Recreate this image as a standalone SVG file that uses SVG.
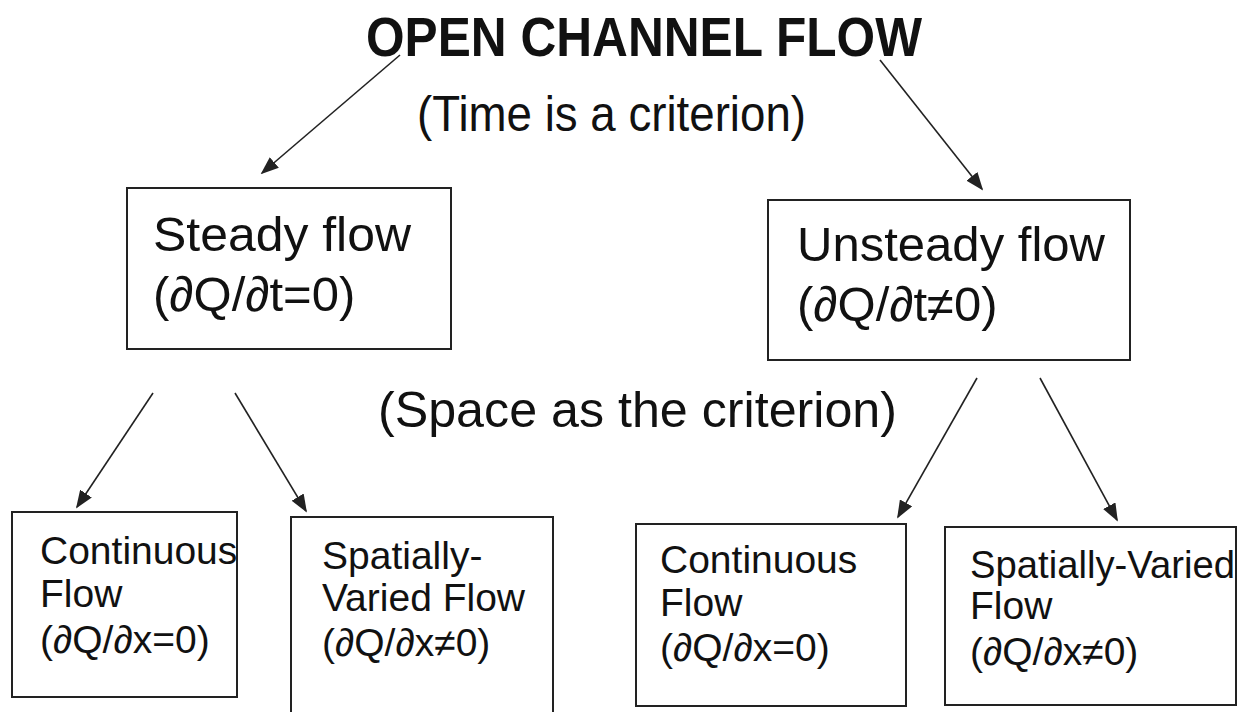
<svg xmlns="http://www.w3.org/2000/svg" width="1247" height="712" viewBox="0 0 1247 712">
<defs>
<style>
text{font-family:"Liberation Sans",Arial,sans-serif;fill:#111}
.title{font-weight:bold;font-size:56px}
.crit{font-size:50px}
.mid{font-size:49px}
.small{font-size:39px}
.box{fill:none;stroke:#222;stroke-width:2}
.conn{stroke:#222;stroke-width:1.6;fill:none;marker-end:url(#ah)}
.d{font-style:italic}
</style>
<marker id="ah" viewBox="0 0 10 10" refX="9" refY="5" markerWidth="18" markerHeight="14" markerUnits="userSpaceOnUse" orient="auto" preserveAspectRatio="none">
<path d="M0,0 L10,5 L0,10 z" fill="#222"/>
</marker>
</defs>
<rect width="1247" height="712" fill="#fff"/>
<g id="title"><text class="title" x="366" y="56" textLength="556" lengthAdjust="spacingAndGlyphs">OPEN CHANNEL FLOW</text></g>
<g id="time-label"><text class="crit" x="417" y="131" textLength="389" lengthAdjust="spacingAndGlyphs">(Time is a criterion)</text></g>
<g id="space-label"><text class="crit" x="378" y="427" textLength="519" lengthAdjust="spacingAndGlyphs">(Space as the criterion)</text></g>
<g id="steady">
<rect class="box" x="127" y="188" width="324" height="161"/>
<text class="mid" x="153" y="251" textLength="258" lengthAdjust="spacingAndGlyphs">Steady flow</text>
<text class="mid" x="153" y="311">(<tspan class="d">∂</tspan>Q/<tspan class="d">∂</tspan>t=0)</text>
</g>
<g id="unsteady">
<rect class="box" x="768" y="200" width="362" height="160"/>
<text class="mid" x="797" y="261" textLength="308" lengthAdjust="spacingAndGlyphs">Unsteady flow</text>
<text class="mid" x="797" y="321">(<tspan class="d">∂</tspan>Q/<tspan class="d">∂</tspan>t≠0)</text>
</g>
<g id="cont-1">
<rect class="box" x="12" y="512" width="225" height="185"/>
<text class="small" x="40" y="564">Continuous</text>
<text class="small" x="40" y="607">Flow</text>
<text class="small" x="40" y="653">(<tspan class="d">∂</tspan>Q/<tspan class="d">∂</tspan>x=0)</text>
</g>
<g id="svf-1">
<rect class="box" x="291" y="517" width="262" height="200"/>
<text class="small" x="322" y="569">Spatially-</text>
<text class="small" x="322" y="611">Varied Flow</text>
<text class="small" x="322" y="656">(<tspan class="d">∂</tspan>Q/<tspan class="d">∂</tspan>x≠0)</text>
</g>
<g id="cont-2">
<rect class="box" x="636" y="524" width="270" height="182"/>
<text class="small" x="660" y="573">Continuous</text>
<text class="small" x="660" y="616">Flow</text>
<text class="small" x="660" y="661">(<tspan class="d">∂</tspan>Q/<tspan class="d">∂</tspan>x=0)</text>
</g>
<g id="svf-2">
<rect class="box" x="945" y="527" width="291" height="178"/>
<text class="small" x="970" y="578" textLength="265" lengthAdjust="spacingAndGlyphs">Spatially-Varied</text>
<text class="small" x="970" y="619">Flow</text>
<text class="small" x="970" y="665">(<tspan class="d">∂</tspan>Q/<tspan class="d">∂</tspan>x≠0)</text>
</g>
<g id="connectors">
<line class="conn" x1="400" y1="55" x2="262" y2="173"/>
<line class="conn" x1="880" y1="60" x2="982" y2="189"/>
<line class="conn" x1="153" y1="393" x2="77" y2="507"/>
<line class="conn" x1="235" y1="393" x2="306" y2="511"/>
<line class="conn" x1="977" y1="378" x2="898" y2="517"/>
<line class="conn" x1="1040" y1="378" x2="1117" y2="520"/>
</g>
</svg>
